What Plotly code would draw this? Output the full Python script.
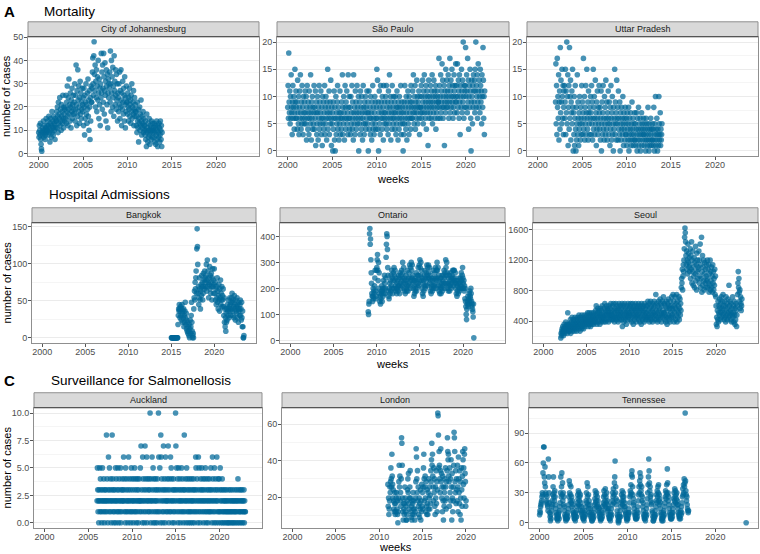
import pandas as pd
import plotly.graph_objects as go

# ---------------------------------------------------------------- data
# one character per observation (every second week), value = ALPHA.index(ch) * scale
ALPHA = "0123456789abcdefghijklmnopqrstuvwxyzABCDEFGHIJKLMNOPQRSTUVWXYZ"

row_titles = ["Mortality", "Hospital Admissions", "Surveillance for Salmonellosis"]
row_letters = ["A", "B", "C"]
panel_names = ["City of Johannesburg", "São Paulo", "Uttar Pradesh",
               "Bangkok", "Ontario", "Seoul",
               "Auckland", "London", "Tennessee"]
year_ticks = [2000, 2005, 2010, 2015, 2020]

series_start = ["2000-01-03", "2000-01-03", "2002-01-07",
                "2015-01-05", "2009-01-05", "2002-01-07",
                "2006-01-02", "2011-01-03", "2000-01-03"]
series_scale = [1, 1, 1, 3, 10, 30, 1, 1.5, 2]

joburg_codes = (
    "97ca8d64219b8ae79ca68bf9ac" "ae8cg9b5dfa7ci9eb8gdac6fbe" "eibkg9mdhfocjealgidpfbkhej"
    "kfpdmitgcojwhleqkbnisflhpj" "mhuepjClcrgAnitkdovhqfmjsl" "iocsk8pfmuhldqjwgnark6oetm"
    "mszFupGMyrCkvoAitxnEqfwlsc" "uoHqzjCsmHxhrDpveAtlybqwou" "szmIuiEqxkBotgGrvlApjynueq"
    "oiulzfrkAncqjvmhspexlboitm" "mhqkeojsglndpiufkmhrcjogli" "icg9mebj5fdkahcne8gbdi9fca"
    "c8e6a3h9b5d7af84c9b6ea7d9b" "a7d59c4b8e6a3c97db58ea6c39")
saopaulo_codes = (
    "8c6i97b5a6e8739c68a47f96b8" "694d75a38b6e7495c683a7596b" "75a28c64973b685e7296a4857c"
    "486b17935a7286c4957b3681a5" "6947c385a6297f486b3795d618" "570946b2806a3759c468275b36"
    "7496e385a726c8496b573e86a4" "683a57c4962e7583b6947c586a" "07593b684a726c583975a486b7"
    "5907b4683a67295c48637a5946" "8f6d4907b583c6974a682c7596" "7a5c48693b75e86a2974c685a7"
    "694a7385b682974a685c379685" "07395c684a7296b583a7694c86" "96b7e85a7c4986d7a598b63a87"
    "8c6a7d95b8e7a69c48b7a19d68" "a7c96b8e5a97d8b6ac497b8a69" "9h8c6ae7b9g8d6a8c19b7fa8d9"
    "b8ea6c9h7bd8af9c6a8eb7c9ga" "9c7ga8db6e93ca8fb7d9ka6c8b" "cja8eb7h9d4ac8fb609da5c8eb"
    "9d7fbk8cae69gb8da7fc9b5ea8" "jd6a3b")
uttar_codes = (
    "9g5c3h8a6e29b4j7d95fa6c38b" "c69f3b7k5ae18c4j6ad297b5f8" "073a16c40825e396174a52863c"
    "5937h46a285c37f6492b75386a" "73c5926f48a36d57194b6385c7" "4826b05937c462a583d649275b"
    "6395184c627a350846f39572d6" "582b463907528463a517462835" "36174258036247153924613527"
    "25147306248135260437152436" "31524063251482305142631425" "24183052a143620431a5237142"
    "35")
bangkok_codes = (
    "000000000000000000006adcfd" "9cea8dfb7c9d5a7cg96b483725" "31604825ag730120dilhpmrukE"
    "NFxknfirmhdlojsnphktnqmurp" "nsxlqznupirowmskptnhrvnqko" "vzkphmfnirgldjohcmiqfkhnej"
    "hmeai7d593b7d8fcahd9eicfag" "dikcgahe9jdf8hcebi9fd7gcda" "fhad8g95c5001")
ontario_codes = (
    "baefFHBDvqmihfhkgjilorgjhr" "svxrnukqifhegjilfjkhnikpmi" "kowBFEzspjhgkminjplrkoinqk"
    "spnrljokimknjlploiqmkpnrlo" "uqmskojnimpkjnlrjolqmtoksn" "urotmpknhlinjokqjnlpmspltn"
    "vspunrkoimhnjplrkolqntplso" "tqosmpjnilkojnlrkolqmsokrn" "uroslpjnilkoimkpjnlpmrokqm"
    "vspumqkojmlpjnlqkompnrolrn" "romqknimhljnimkojmkolqnkps" "omknjlgkfda8cefhdgeifjhgki"
    "fdecb9e1")
seoul_codes = (
    "6879a8b97ac98bad9bac8hacb9" "9cae8bdaf9cbead9cfbaec9dbf" "beagcd9fcbeagdbfcaedgbcfde"
    "dgchebfdhcgebfdhcegdfchedg" "eidkfchgjdfiehcgjfdiekgfhd" "fjelgdihkegjfidhkgejflhgie"
    "gkelfidhjflgeikfhdjgleifkh" "gjelbhfkdiglejfhckgielhfjg" "hkelgjdiflhcjgkeiflhdjgkfi"
    "glejhdkficlgjehkfidlgjehkf" "hkfmeigldjfmhekgidlfjhmekg" "gpielhdkfmiejgnflhdkgmifoh"
    "hlekgdmfjcilfngkejdmhkfogj" "ipfmdkhoejlgpdimfkhoejngli" "swuArxCzEJOSQMGCIAEyLDHBFz"
    "CJwGAMuEzItBxFsDyKvCrHzEwB" "AIuExLsCwOqzGtBvEryDuAsxCv" "wEsAuCqytErzvBsxqCuzrwtApx"
    "okcfbiemdhkgnjelhofjmipgke" "hmfkdoiglejnhftkgmielhdjgo" "fkhdmgcjelibgkpuzswqmrjoli"
    "kn")
auckland_codes = (
    "25312032514231025321420312" "32814203621532410238241302" "13250421325103421250312432"
    "26314205132412036214230152" "41320241532140231420324125" "27132064213027413260421324"
    "13a20421632504123042132041" "3a621530862413027134206312" "24137204132615420321430213"
    "a7253140253124032152341023" "81324025134201324103214203" "21430213652143026152301423"
    "52134021324510231420312413" "25130264123051243026132401" "41352013240132102312013210"
    "21031201321021302120132102" "13204123012130213201213021" "1")
london_codes = (
    "iad79chfjokhtlidgc98bf7b8d" "f9c748djphlcfakzxpd85b97bh" "d8a557cgkfmb9dhnd86a5c7bf9"
    "c7958djvskfncha7d6b9g5c8ia" "f9hotkchld8ja7gb7f9kdh9ebn" "jrxptlhcofka7hdnbj8gIHAoup"
    "kfnvjmdh8lc5hafkcoh9jdnzur" "tljaofkcrh5md8hcpBzujfnbkg" "cph8skfbn7jd5ogaluriodtvmj"
    "ac")
tennessee_codes = (
    "46589abdfepuCCnksifebad986" "wnfa5314268b9eindfbgd97542" "231435268afndipekbf9d86432"
    "132425379dlfjbeiad8b695432" "24153638aecg9fbd8e6a584632" "23153648bfakdi9e7b59473521"
    "13425379cgaebf8d9b68573421" "2426385adg9ebh8daf7b694732" "24153749bfdhaeknvfic9b6431"
    "02143638aebg9dfbd8a6845321" "2325475adgejfoqniec9a75432" "2426385beiflpjngeibd8a6432"
    "24153749cfjnwqkgidbe9a6531" "13243648beagdifjbe9c7a5421" "23153648adgcfjerkfbd975432"
    "24253759cfbhdgaecf9b795432" "3526485adhejfmikTlgebd9765" "6")
tennessee_late_week = ["2023-07-03"]
tennessee_late_cases = [0]

series_codes = [joburg_codes, saopaulo_codes, uttar_codes,
                bangkok_codes, ontario_codes, seoul_codes,
                auckland_codes, london_codes, tennessee_codes]

# ---------------------------------------------------------------- styling / layout
W, H = 760, 554
FONT = "Liberation Sans, Arial, Helvetica, sans-serif"
PT_COLOR = "rgba(0,104,152,0.72)"
BORDER = "#8f8f8f"

def X(px):
    return px / W

def Y(py):
    return 1 - py / H

rows_geom = [
    (33, 154, [(28, 259), (277, 509), (527, 758)]),
    (221, 343, [(32, 256), (280, 505), (533, 758)]),
    (408, 530, [(34, 262), (282, 508), (529, 758)]),
]
title_pos = [(8, 42), (193, 47), (381, 49)]
weeks_pos = [177, 364, 549]

y_ranges = [[-1.2, 50.2], [-1, 21], [-1, 21],
            [-7.4, 155.4], [-11, 453], [110, 1692],
            [-0.5, 10.5], [3, 69], [-5.5, 115.5]]
y_dticks = [10, 5, 5, 50, 100, 400, 2.5, 20, 30]
x_range = ["1998-10-19", "2024-11-06"]

fig = go.Figure()
layout = dict(width=W, height=H, margin=dict(l=0, r=0, t=0, b=0), autosize=False,
              plot_bgcolor="white", paper_bgcolor="white", showlegend=False,
              font=dict(family=FONT))
shapes, annotations = [], []

for i in range(9):
    r, c = divmod(i, 3)
    top, bot, cols = rows_geom[r]
    left, right = cols[c]
    codes = series_codes[i]
    weeks = pd.date_range(series_start[i], periods=len(codes), freq="14D")
    cases = [ALPHA.index(ch) * series_scale[i] for ch in codes]
    xs = list(weeks)
    ys = cases
    if i == 8:
        xs = xs + list(pd.to_datetime(tennessee_late_week))
        ys = ys + tennessee_late_cases
    sfx = "" if i == 0 else str(i + 1)
    fig.add_trace(go.Scatter(x=xs, y=ys, mode="markers", xaxis="x" + sfx, yaxis="y" + sfx,
                             marker=dict(size=5.6, color=PT_COLOR, line=dict(width=0)),
                             hoverinfo="skip"))
    layout["xaxis" + sfx] = dict(
        domain=[X(left), X(right)], anchor="y" + sfx, type="date", range=x_range,
        tickmode="array", tickvals=[f"{yr}-01-01" for yr in year_ticks],
        ticktext=[str(yr) for yr in year_ticks],
        showgrid=False, zeroline=False, showline=True, mirror=True,
        linecolor=BORDER, linewidth=1, ticks="outside", ticklen=3, tickcolor="#555",
        ticklabelstandoff=-3,
        tickfont=dict(size=9, color="#4d4d4d", family=FONT), fixedrange=True)
    d = y_dticks[i]
    layout["yaxis" + sfx] = dict(
        domain=[Y(bot), Y(top)], anchor="x" + sfx, range=y_ranges[i],
        tick0=0, dtick=d, tickformat=".1f" if i == 6 else "d",
        showgrid=True, gridcolor="#ebebeb", gridwidth=1,
        minor=dict(dtick=d / 2, tick0=0, showgrid=True, gridcolor="#f5f5f5", gridwidth=0.6),
        zeroline=False, showline=True, mirror=True, linecolor=BORDER, linewidth=1,
        ticks="outside", ticklen=3, tickcolor="#555", ticklabelstandoff=-1,
        tickfont=dict(size=9, color="#4d4d4d", family=FONT), fixedrange=True)
    # facet strip
    shapes.append(dict(type="rect", xref="paper", yref="paper",
                       x0=X(left), x1=X(right), y0=Y(top), y1=Y(top - 15),
                       fillcolor="#d9d9d9", line=dict(color=BORDER, width=1)))
    shapes.append(dict(type="line", xref="paper", yref="paper",
                       x0=X(left), x1=X(right), y0=Y(top), y1=Y(top),
                       line=dict(color="#555555", width=1.2)))
    annotations.append(dict(text=panel_names[i], xref="paper", yref="paper",
                            x=X((left + right) / 2), y=Y(top - 7.5),
                            xanchor="center", yanchor="middle", showarrow=False,
                            font=dict(size=9, color="#1a1a1a", family=FONT)))

for r in range(3):
    top, bot, cols = rows_geom[r]
    ty, tx = title_pos[r]
    annotations.append(dict(text="<b>" + row_letters[r] + "</b>", xref="paper", yref="paper",
                            x=X(2), y=Y(ty), xanchor="left", yanchor="middle", showarrow=False,
                            font=dict(size=15, color="black", family=FONT)))
    annotations.append(dict(text=row_titles[r], xref="paper", yref="paper",
                            x=X(tx), y=Y(ty), xanchor="left", yanchor="middle", showarrow=False,
                            font=dict(size=13.5, color="black", family=FONT)))
    annotations.append(dict(text="number of cases", xref="paper", yref="paper",
                            x=X(6.5), y=Y((top + bot) / 2), xanchor="center", yanchor="middle",
                            textangle=-90, showarrow=False,
                            font=dict(size=11, color="black", family=FONT)))
    mid = cols[1]
    annotations.append(dict(text="weeks", xref="paper", yref="paper",
                            x=X((mid[0] + mid[1]) / 2), y=Y(weeks_pos[r]),
                            xanchor="center", yanchor="middle", showarrow=False,
                            font=dict(size=11, color="black", family=FONT)))

layout["shapes"] = shapes
layout["annotations"] = annotations
fig.update_layout(**layout)
fig.write_html("out.html")
